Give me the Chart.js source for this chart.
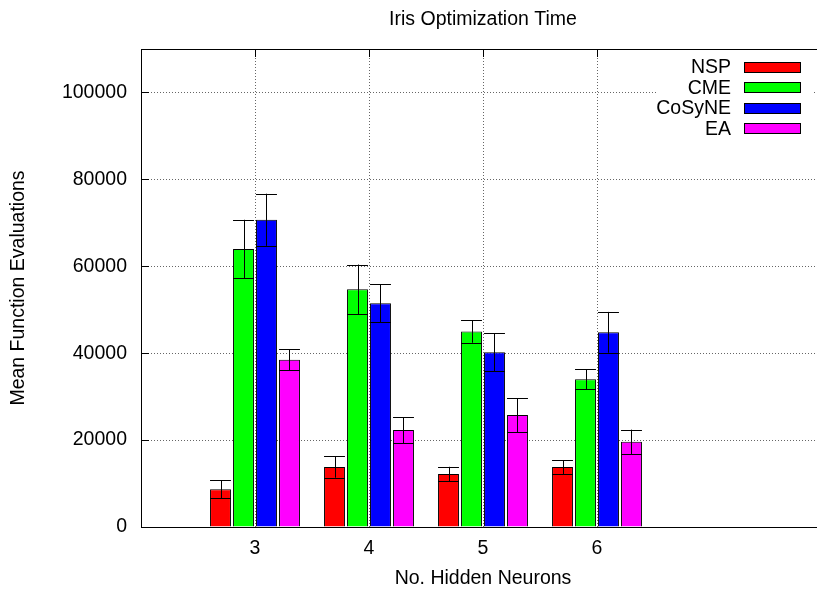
<!DOCTYPE html>
<html>
<head>
<meta charset="utf-8">
<script src="https://cdn.jsdelivr.net/npm/chart.js@4/dist/chart.umd.min.js"></script>
<style>
  html, body { margin: 0; padding: 0; background: #fff; overflow: hidden; }
  #wrap { position: relative; width: 965px; height: 591px; }
</style>
</head>
<body>
<div id="wrap"><canvas id="barChart"></canvas></div>
<script>
// ---- data ----
const categories = [3, 4, 5, 6];
const seriesNames = ["NSP", "CME", "CoSyNE", "EA"];
const seriesColors = ["#ff0000", "#00ff00", "#0000ff", "#ff00ff"];

const nsp = [8700, 13800, 12200, 13800];
const nspErr = [2100, 2450, 1650, 1600];
const cme = [64000, 54700, 45000, 34000];
const cmeErr = [6700, 5700, 2600, 2300];
const cosyne = [70700, 51500, 40200, 44800];
const cosyneErr = [6000, 4400, 4400, 4700];
const ea = [38500, 22300, 25750, 19600];
const eaErr = [2400, 3000, 3900, 2800];

const yTicks = [0, 20000, 40000, 60000, 80000, 100000];
const xTicks = [3, 4, 5, 6];

const values = [nsp, cme, cosyne, ea];
const errors = [nspErr, cmeErr, cosyneErr, eaErr];

const FONT = "'Liberation Sans', Arial, Helvetica, sans-serif";
const FSIZE = 19.5;

// ---- error bars, drawn through the y scale ----
const errorBars = {
  id: "errorBars",
  afterDatasetsDraw(chart) {
    const ctx = chart.ctx;
    const y = chart.scales.y;
    ctx.save();
    ctx.strokeStyle = "#000";
    ctx.lineWidth = 1;
    chart.data.datasets.forEach((ds, di) => {
      const meta = chart.getDatasetMeta(di);
      meta.data.forEach((bar, i) => {
        const v = values[di][i], e = errors[di][i];
        const top = y.getPixelForValue(v + e);
        const bot = y.getPixelForValue(v - e);
        const half = bar.width / 2;
        const cx = Math.round(bar.x) + 0.5;
        ctx.beginPath();
        ctx.moveTo(cx, top); ctx.lineTo(cx, bot);
        ctx.moveTo(bar.x - half, Math.round(top) + 0.5); ctx.lineTo(bar.x + half, Math.round(top) + 0.5);
        ctx.moveTo(bar.x - half, Math.round(bot) + 0.5); ctx.lineTo(bar.x + half, Math.round(bot) + 0.5);
        ctx.stroke();
      });
    });
    ctx.restore();
  },
};

// ---- frame, inward tick marks and the gnuplot style key ----
const frameAndKey = {
  id: "frameAndKey",
  afterDraw(chart) {
    const ctx = chart.ctx;
    const a = chart.chartArea;
    const xs = chart.scales.x, ys = chart.scales.y;
    ctx.save();
    ctx.strokeStyle = "#000";
    ctx.lineWidth = 1;
    ctx.setLineDash([]);
    ctx.beginPath();
    ctx.rect(Math.round(a.left) + 0.5, Math.round(a.top) + 0.5,
      Math.round(a.right - a.left), Math.round(a.bottom - a.top));
    ctx.stroke();
    ctx.beginPath();
    yTicks.forEach((t) => {
      const py = Math.round(ys.getPixelForValue(t)) + 0.5;
      ctx.moveTo(a.left, py); ctx.lineTo(a.left + 8, py);
    });
    xTicks.forEach((t) => {
      const px = Math.round(xs.getPixelForValue(t)) + 0.5;
      ctx.moveTo(px, a.top); ctx.lineTo(px, a.top + 8);
    });
    ctx.stroke();

    // key
    ctx.fillStyle = "#fff";
    ctx.fillRect(657, 55, 156, 84);
    ctx.font = FSIZE + "px " + FONT;
    ctx.textAlign = "right";
    ctx.textBaseline = "middle";
    seriesNames.forEach((name, i) => {
      const cy = 67 + i * 20.5;
      ctx.fillStyle = "#000";
      ctx.fillText(name, 731, cy + 1);
      ctx.fillStyle = seriesColors[i];
      ctx.fillRect(744, Math.round(cy - 5.5), 57, 11);
      ctx.strokeStyle = "#000";
      ctx.strokeRect(744.5, Math.round(cy - 5.5) + 0.5, 56, 10);
    });
    ctx.restore();
  },
};

new Chart(document.getElementById("barChart"), {
  type: "bar",
  data: {
    datasets: seriesNames.map((name, di) => ({
      label: name,
      data: categories.map((c, i) => ({ x: c, y: values[di][i] })),
      backgroundColor: seriesColors[di],
      borderColor: "#000",
      borderWidth: 1,
      categoryPercentage: 0.807,
      barPercentage: 0.91,
    })),
  },
  options: {
    responsive: true,
    maintainAspectRatio: false,
    animation: false,
    layout: { padding: { left: 0, right: 140, top: 0, bottom: 0 } },
    scales: {
      x: {
        type: "linear",
        min: 2,
        max: 8,
        offset: false,
        afterBuildTicks: (scale) => { scale.ticks = xTicks.map((v) => ({ value: v })); },
        afterFit: (scale) => { scale.height = 64; },
        grid: { offset: false, color: "rgba(0,0,0,0.6)", lineWidth: 1, drawTicks: false },
        border: { display: true, color: "#000", width: 1, dash: [1, 2] },
        ticks: {
          color: "#000",
          font: { family: FONT, size: FSIZE },
          padding: 10,
          maxRotation: 0,
          callback: (v) => String(v),
        },
        title: {
          display: true,
          text: "No. Hidden Neurons",
          color: "#000",
          font: { family: FONT, size: FSIZE },
          padding: { top: 0, bottom: 1 },
        },
      },
      y: {
        min: 0,
        max: 110000,
        afterBuildTicks: (scale) => { scale.ticks = yTicks.map((v) => ({ value: v })); },
        afterFit: (scale) => { scale.width = 141; },
        grid: {
          color: (c) => (c.tick && c.tick.value === 0 ? "rgba(0,0,0,0)" : "rgba(0,0,0,0.6)"),
          lineWidth: 1,
          drawTicks: false,
        },
        border: { display: true, color: "#000", width: 1, dash: [1, 2] },
        ticks: {
          color: "#000",
          font: { family: FONT, size: FSIZE },
          padding: 14,
          callback: (v) => String(v),
        },
        title: {
          display: true,
          text: "Mean Function Evaluations",
          color: "#000",
          font: { family: FONT, size: FSIZE },
          padding: { top: 7, bottom: 0 },
        },
      },
    },
    plugins: {
      legend: { display: false },
      tooltip: { enabled: false },
      title: {
        display: true,
        fullSize: false,
        text: "Iris Optimization Time",
        color: "#000",
        font: { family: FONT, size: FSIZE, weight: "normal" },
        padding: { top: 8, bottom: 17.6 },
      },
    },
  },
  plugins: [errorBars, frameAndKey],
});
</script>
</body>
</html>
